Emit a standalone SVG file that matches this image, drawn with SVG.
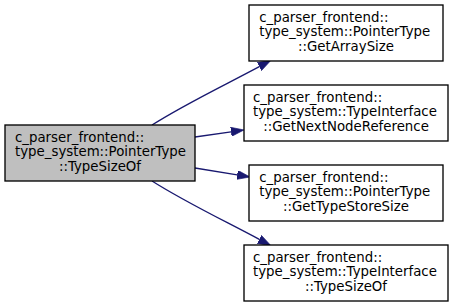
<svg xmlns="http://www.w3.org/2000/svg" width="452" height="307" viewBox="0 0 452 307">
  <style>
    .box { fill: #ffffff; stroke: #000000; stroke-width: 1.33; }
    .main { fill: #bfbfbf; }
    .lbl { font-family: "DejaVu Sans", "Noto Sans", sans-serif; font-size: 13.33px; fill: #000000; }
    .mid { text-anchor: middle; }
    .edge { fill: none; stroke: #191970; stroke-width: 1.33; }
  </style>
  <defs>
    <marker id="arrow" viewBox="0 0 10 7" refX="0" refY="3.5" markerWidth="13" markerHeight="9.1" markerUnits="userSpaceOnUse" orient="auto">
      <path d="M0,0 L10,3.5 L0,7 Z" fill="#191970" stroke="#191970" stroke-width="0.5"/>
    </marker>
  </defs>

  <!-- call edges -->
  <g id="edges">
    <path class="edge" d="M152,125 C185,104 225,85 259.3,66.6" marker-end="url(#arrow)"/>
    <path class="edge" d="M195,137 L231.1,131.8" marker-end="url(#arrow)"/>
    <path class="edge" d="M195,168 L237.2,174.9" marker-end="url(#arrow)"/>
    <path class="edge" d="M152,181 C185,202 225,221 259.3,239.4" marker-end="url(#arrow)"/>
  </g>

  <!-- caller -->
  <g id="node-typesizeof-pointer">
    <rect class="box main" x="5" y="125" width="190" height="56"/>
    <text class="lbl" x="15" y="141.7">c_parser_frontend::</text>
    <text class="lbl" x="15" y="156.3">type_system::PointerType</text>
    <text class="lbl mid" x="100" y="171">::TypeSizeOf</text>
  </g>

  <!-- callees -->
  <g id="node-getarraysize">
    <rect class="box" x="249" y="5" width="194" height="56"/>
    <text class="lbl" x="259.2" y="21.7">c_parser_frontend::</text>
    <text class="lbl" x="259.2" y="36.3">type_system::PointerType</text>
    <text class="lbl mid" x="346" y="51">::GetArraySize</text>
  </g>

  <g id="node-getnextnodereference">
    <rect class="box" x="244" y="85" width="204" height="56"/>
    <text class="lbl" x="253" y="101.7">c_parser_frontend::</text>
    <text class="lbl" x="253" y="116.3">type_system::TypeInterface</text>
    <text class="lbl mid" x="346" y="131">::GetNextNodeReference</text>
  </g>

  <g id="node-gettypestoresize">
    <rect class="box" x="249" y="165" width="194" height="56"/>
    <text class="lbl" x="259.2" y="181.7">c_parser_frontend::</text>
    <text class="lbl" x="259.2" y="196.3">type_system::PointerType</text>
    <text class="lbl mid" x="346" y="211">::GetTypeStoreSize</text>
  </g>

  <g id="node-typesizeof-interface">
    <rect class="box" x="244" y="245" width="204" height="56"/>
    <text class="lbl" x="253" y="261.7">c_parser_frontend::</text>
    <text class="lbl" x="253" y="276.3">type_system::TypeInterface</text>
    <text class="lbl mid" x="346" y="291">::TypeSizeOf</text>
  </g>
</svg>
